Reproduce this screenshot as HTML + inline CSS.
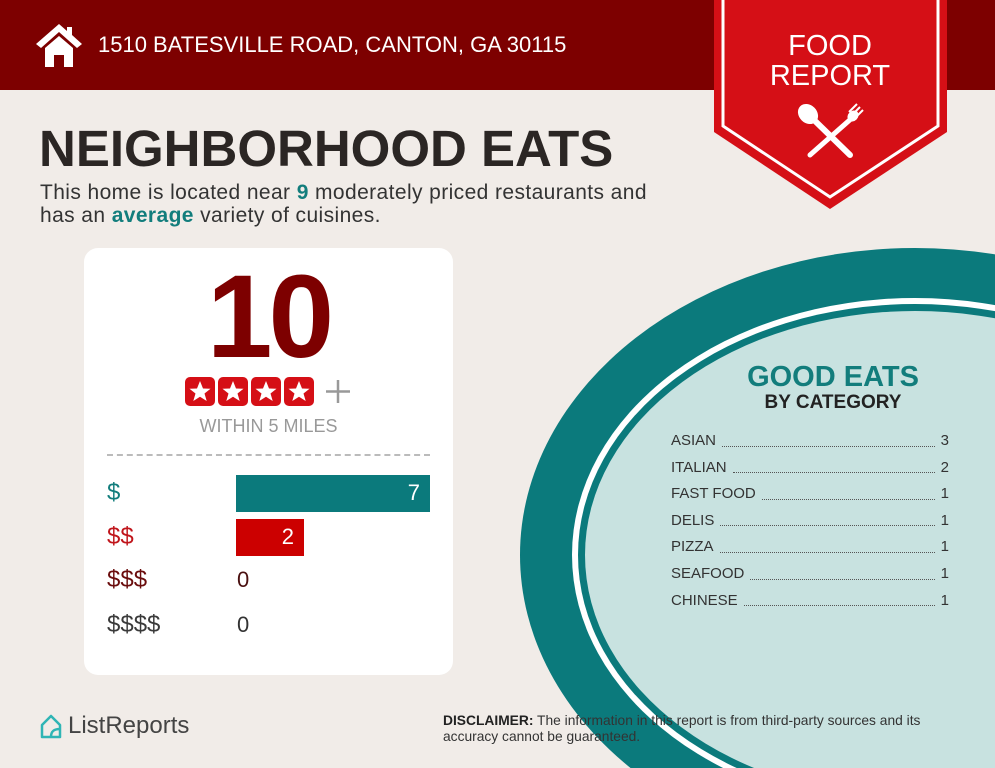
<!DOCTYPE html>
<html><head><meta charset="utf-8"><style>
*{margin:0;padding:0;box-sizing:border-box}
html,body{width:995px;height:768px;overflow:hidden}
body{background:#f1ece8;font-family:"Liberation Sans",sans-serif;position:relative}
.abs{position:absolute;white-space:nowrap}
</style></head><body>
<div class="abs" style="left:0;top:0;width:995px;height:90px;background:#7d0000"></div>
<svg class="abs" style="left:34px;top:22px" width="50" height="46" viewBox="0 0 50 46">
<polygon points="25,2 2,22 7,26 25,10 43,26 48,22 38,13 38,5 33,5 33,9" fill="#fff"/>
<polygon points="11,26 25,14 39,26 39,45 30,45 30,33 20,33 20,45 11,45" fill="#fff"/>
</svg>
<div class="abs" style="left:98px;top:32px;font-size:22px;color:#fff">1510 BATESVILLE ROAD, CANTON, GA 30115</div>

<svg class="abs" style="left:0;top:0" width="995" height="768">
<ellipse cx="915" cy="555" rx="395" ry="307" fill="#0b7a7c"/>
<ellipse cx="915" cy="555" rx="343" ry="257" fill="#fff"/>
<ellipse cx="915" cy="555" rx="337" ry="251" fill="#0b7a7c"/>
<ellipse cx="915" cy="555" rx="330" ry="244" fill="#c8e2e0"/>
<polygon points="714,0 947,0 947,132 830,209 714,132" fill="#d50f16"/>
<polyline points="723,0 723,126 830,197 938,126 938,0" fill="none" stroke="#fff" stroke-width="3"/>
<g stroke="#fff" stroke-linecap="round">
<line x1="812" y1="118" x2="850" y2="155" stroke-width="6"/>
<line x1="852" y1="118" x2="810" y2="155" stroke-width="5"/>
</g>
<ellipse cx="808" cy="114" rx="9" ry="11" fill="#fff" transform="rotate(-45 808 114)"/>
<path d="M849,112 L857,104 M852,115 L860,107 M855,118 L863,110" stroke="#fff" stroke-width="2"/>
<ellipse cx="853" cy="116" rx="5" ry="6" fill="#fff" transform="rotate(45 853 116)"/>
</svg>
<div class="abs" style="left:730px;top:31px;width:200px;text-align:center;font-size:29px;line-height:30px;color:#fff">FOOD<br>REPORT</div>

<div class="abs" style="left:39px;top:119px;font-size:51px;font-weight:bold;color:#2b2624">NEIGHBORHOOD EATS</div>
<div class="abs" style="left:40px;top:181px;font-size:21px;letter-spacing:0.4px;line-height:23px;color:#333">This home is located near <b style="color:#127d7c">9</b> moderately priced restaurants and<br>has an <b style="color:#127d7c">average</b> variety of cuisines.</div>

<div class="abs" style="left:84px;top:248px;width:369px;height:427px;background:#fff;border-radius:14px"></div>
<div class="abs" style="left:84px;top:257px;width:369px;text-align:center;font-size:118px;font-weight:bold;color:#7d0000;letter-spacing:-4px;line-height:120px">10</div>
<svg class="abs" style="left:184px;top:376px" width="170" height="32">
<g fill="#d50f16">
<rect x="1" y="1" width="30" height="29" rx="5"/><rect x="34" y="1" width="30" height="29" rx="5"/><rect x="67" y="1" width="30" height="29" rx="5"/><rect x="100" y="1" width="30" height="29" rx="5"/>
</g>
<g fill="#fff">
<polygon id="s" points="16,5 19,12.5 26.5,12.8 20.5,17.5 22.7,25 16,20.7 9.3,25 11.5,17.5 5.5,12.8 13,12.5"/>
<use href="#s" x="33"/><use href="#s" x="66"/><use href="#s" x="99"/>
</g>
<path d="M142,15.5 H166 M154,4 V27" stroke="#999" stroke-width="2.5"/>
</svg>
<div class="abs" style="left:84px;top:416px;width:369px;text-align:center;font-size:18px;color:#999">WITHIN 5 MILES</div>
<div class="abs" style="left:107px;top:454px;width:323px;border-top:2px dashed #bbb"></div>
<div class="abs" style="left:107px;top:479px;font-size:24px;color:#127d7c">$</div>
<div class="abs" style="left:107px;top:523px;font-size:24px;color:#c0151b">$$</div>
<div class="abs" style="left:107px;top:566px;font-size:24px;color:#6a0c0c">$$$</div>
<div class="abs" style="left:107px;top:611px;font-size:24px;color:#3a3a3a">$$$$</div>
<div class="abs" style="left:236px;top:475px;width:194px;height:37px;background:#0b7a7c;color:#fff;font-size:22px;text-align:right;padding:5px 10px 0 0">7</div>
<div class="abs" style="left:236px;top:519px;width:68px;height:37px;background:#cc0000;color:#fff;font-size:22px;text-align:right;padding:5px 10px 0 0">2</div>
<div class="abs" style="left:237px;top:567px;font-size:22px;color:#4a1010">0</div>
<div class="abs" style="left:237px;top:612px;font-size:22px;color:#333">0</div>

<div class="abs" style="left:733px;top:361px;width:200px;text-align:center;font-size:29px;font-weight:bold;color:#127d7c">GOOD EATS</div>
<div class="abs" style="left:733px;top:392px;width:200px;text-align:center;font-size:19px;font-weight:bold;color:#222">BY CATEGORY</div>
<div class="abs" style="left:671px;top:428px;width:278px;font-size:15px;color:#333;line-height:26.6px">
<div style="display:flex"><span>ASIAN</span><span style="flex:1;border-bottom:1px dotted #555;margin:0 6px 8px"></span><span>3</span></div>
<div style="display:flex"><span>ITALIAN</span><span style="flex:1;border-bottom:1px dotted #555;margin:0 6px 8px"></span><span>2</span></div>
<div style="display:flex"><span>FAST FOOD</span><span style="flex:1;border-bottom:1px dotted #555;margin:0 6px 8px"></span><span>1</span></div>
<div style="display:flex"><span>DELIS</span><span style="flex:1;border-bottom:1px dotted #555;margin:0 6px 8px"></span><span>1</span></div>
<div style="display:flex"><span>PIZZA</span><span style="flex:1;border-bottom:1px dotted #555;margin:0 6px 8px"></span><span>1</span></div>
<div style="display:flex"><span>SEAFOOD</span><span style="flex:1;border-bottom:1px dotted #555;margin:0 6px 8px"></span><span>1</span></div>
<div style="display:flex"><span>CHINESE</span><span style="flex:1;border-bottom:1px dotted #555;margin:0 6px 8px"></span><span>1</span></div>
</div>

<svg class="abs" style="left:38px;top:713px" width="26" height="28"><path d="M4,12 L13,3 L22,12 V24 H13 L4,24 Z M13,24 C13,18 16,16 22,16" fill="none" stroke="#2fb5b5" stroke-width="2.5" stroke-linejoin="round"/></svg>
<div class="abs" style="left:68px;top:712px;font-size:24px;color:#444">ListReports</div>
<div class="abs" style="left:443px;top:713px;font-size:13.8px;line-height:15.5px;color:#333"><b style="color:#222">DISCLAIMER:</b> The information in this report is from third-party sources and its<br>accuracy cannot be guaranteed.</div>
</body></html>
